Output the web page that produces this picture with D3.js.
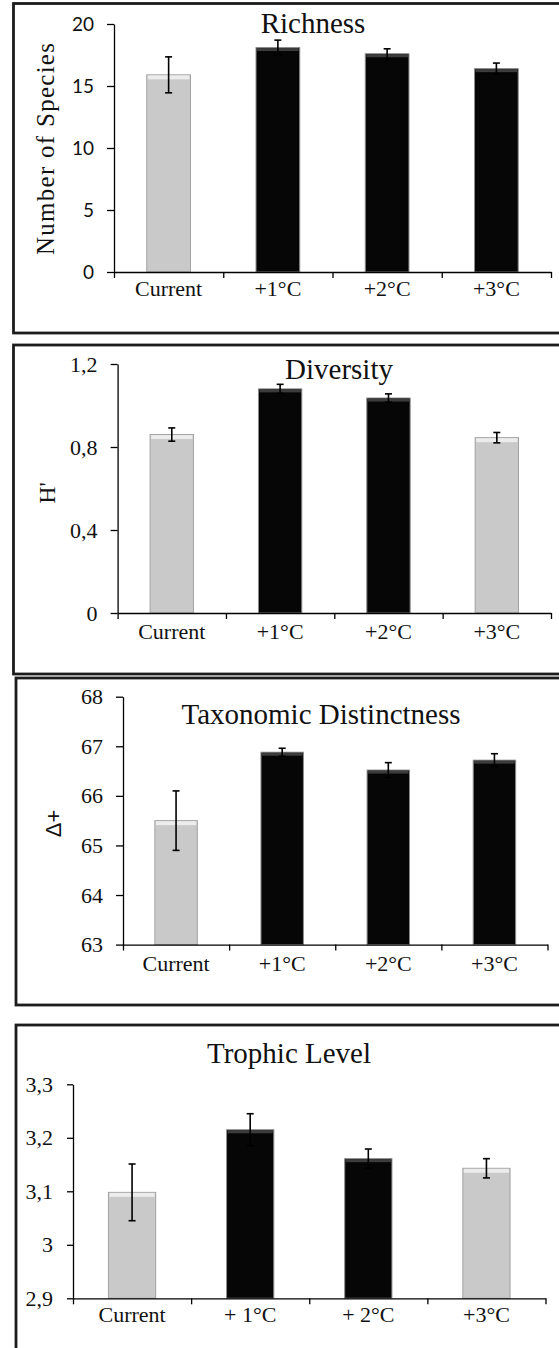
<!DOCTYPE html>
<html>
<head>
<meta charset="utf-8">
<script src="https://cdn.jsdelivr.net/npm/d3@7"></script>
<style>
  body { margin: 0; background: #fff; }
  svg { display: block; }
  .serif { font-family: "Liberation Serif", "Times New Roman", serif; }
</style>
</head>
<body>
<div id="chart"></div>
<script>
// data
var categories = ["Current", "+1°C", "+2°C", "+3°C"];
var categoriesTrophic = ["Current", "+ 1°C", "+ 2°C", "+3°C"];

var richnessMean = [15.9, 18.1, 17.6, 16.4];
var richnessErr = [1.45, 0.6, 0.4, 0.45];
var richnessTone = ["grey", "black", "black", "black"];
var richnessTicks = [0, 5, 10, 15, 20];

var diversityMean = [0.86, 1.08, 1.036, 0.845];
var diversityErr = [0.032, 0.022, 0.02, 0.025];
var diversityTone = ["grey", "black", "black", "grey"];
var diversityTicks = [0, 0.4, 0.8, 1.2];

var distinctMean = [65.5, 66.88, 66.52, 66.72];
var distinctErr = [0.6, 0.08, 0.15, 0.13];
var distinctTone = ["grey", "black", "black", "black"];
var distinctTicks = [63, 64, 65, 66, 67, 68];

var trophicMean = [3.098, 3.215, 3.161, 3.143];
var trophicErr = [0.053, 0.03, 0.018, 0.018];
var trophicTone = ["grey", "black", "black", "grey"];
var trophicTicks = [2.9, 3, 3.1, 3.2, 3.3];

var width = 559;
var height = 1348;
var serif = "Liberation Serif, Times New Roman, serif";

var comma = d3.formatLocale({decimal: ",", thousands: ".", grouping: [3], currency: ["", ""]}).format(".1~f");

var svg = d3.select("#chart").append("svg")
  .attr("width", width)
  .attr("height", height);

function setFont(sel, family, size) {
  sel.attr("font-family", family)
    .style("font-family", family)
    .style("font-size", size + "px");
}

function drawPanel(p) {
  var g = svg.append("g");

  // panel frame (runs off the right edge like the source)
  g.append("rect")
    .attr("x", p.box[0]).attr("y", p.box[1])
    .attr("width", p.box[2] - p.box[0]).attr("height", p.box[3] - p.box[1])
    .attr("fill", "none")
    .attr("stroke", "#1c1c1c")
    .attr("stroke-width", 2.8);

  var x = d3.scaleBand()
    .domain(p.cats)
    .range([p.x0, p.x1])
    .paddingInner(0.6)
    .paddingOuter(0.3);

  var xEdge = d3.scaleLinear().domain([0, p.cats.length]).range([p.x0, p.x1]);

  var y = d3.scaleLinear()
    .domain(p.domain)
    .range([p.yBot, p.yTop]);

  var rows = p.mean.map(function (m, i) {
    return {cat: p.cats[i], mean: m, err: p.err[i], tone: p.tone[i]};
  });

  var bar = g.selectAll(".bar")
    .data(rows)
    .enter().append("g")
    .attr("class", "bar");

  bar.append("rect")
    .attr("x", function (d) { return x(d.cat); })
    .attr("y", function (d) { return y(d.mean); })
    .attr("width", x.bandwidth())
    .attr("height", function (d) { return y(p.domain[0]) - y(d.mean); })
    .attr("fill", function (d) { return d.tone == "grey" ? "#c9c9c9" : "#060606"; })
    .attr("stroke", function (d) { return d.tone == "grey" ? "#a2a2a2" : "#8c8c8c"; })
    .attr("stroke-width", 1);

  // bevel-ish strip at the top of each bar
  bar.append("rect")
    .attr("x", function (d) { return x(d.cat) + 1; })
    .attr("y", function (d) { return y(d.mean) + 0.5; })
    .attr("width", x.bandwidth() - 2)
    .attr("height", function (d) { return d.tone == "grey" ? 4 : 3; })
    .attr("fill", function (d) { return d.tone == "grey" ? "#ececec" : "#3c3c3c"; });

  // error bars
  var cx = function (d) { return x(d.cat) + x.bandwidth() / 2; };
  bar.append("line")
    .attr("x1", cx).attr("x2", cx)
    .attr("y1", function (d) { return y(d.mean + d.err); })
    .attr("y2", function (d) { return y(d.mean - d.err); })
    .attr("stroke", "#000").attr("stroke-width", 1.6);
  [1, -1].forEach(function (s) {
    bar.append("line")
      .attr("x1", function (d) { return cx(d) - 3.5; })
      .attr("x2", function (d) { return cx(d) + 3.5; })
      .attr("y1", function (d) { return y(d.mean + s * d.err); })
      .attr("y2", function (d) { return y(d.mean + s * d.err); })
      .attr("stroke", "#000").attr("stroke-width", 1.6);
  });

  // y axis
  var yAxis = g.append("g")
    .attr("transform", "translate(" + p.x0 + ",0)")
    .call(d3.axisLeft(y).tickValues(p.ticks).tickFormat(comma)
      .tickSize(p.tickLen).tickSizeOuter(0).tickPadding(p.tickPad));
  yAxis.selectAll("path, line").attr("stroke", "#000").attr("stroke-width", 1.3);
  yAxis.attr("font-family", null);
  setFont(yAxis.selectAll("text").attr("fill", "#111"), p.tickFont, p.tickSize);

  // x axis: ticks between categories
  var xTicks = g.append("g")
    .attr("transform", "translate(0," + p.yBot + ")")
    .call(d3.axisBottom(xEdge).tickValues(d3.range(p.cats.length + 1))
      .tickFormat("").tickSize(6).tickSizeOuter(0));
  xTicks.selectAll("path, line").attr("stroke", "#000").attr("stroke-width", 1.3);

  var xLabels = g.append("g")
    .attr("transform", "translate(0," + p.labelY + ")")
    .call(d3.axisBottom(x).tickSize(0).tickPadding(0));
  xLabels.select(".domain").remove();
  xLabels.attr("font-family", null);
  setFont(xLabels.selectAll("text").attr("dy", 0).attr("fill", "#111"), serif, 22);

  // title
  setFont(g.append("text")
    .attr("x", p.titleX).attr("y", p.titleY)
    .attr("text-anchor", "middle")
    .attr("fill", "#111")
    .text(p.title), serif, 29);

  if (p.ylabel) {
    var yl = g.append("text")
      .attr("transform", "translate(" + p.ylabel.x + "," + p.ylabel.y + ") rotate(-90)")
      .attr("text-anchor", "middle")
      .attr("fill", "#111")
      .text(p.ylabel.text);
    setFont(yl, p.ylabel.font, p.ylabel.size);
    if (p.ylabel.len) yl.attr("textLength", p.ylabel.len).attr("lengthAdjust", "spacing");
  }
}

drawPanel({
  box: [13.5, 3.5, 600, 333],
  cats: categories, mean: richnessMean, err: richnessErr, tone: richnessTone,
  domain: [0, 20], ticks: richnessTicks,
  x0: 114, x1: 551, yTop: 24, yBot: 272,
  tickLen: 7, tickPad: 13, tickFont: "Lato, Open Sans, sans-serif", tickSize: 19,
  labelY: 312 - 16,
  title: "Richness", titleX: 313, titleY: 33,
  ylabel: {text: "Number of Species", x: 53.5, y: 149, font: serif, size: 25, len: 212}
});

drawPanel({
  box: [13.5, 345, 600, 674],
  cats: categories, mean: diversityMean, err: diversityErr, tone: diversityTone,
  domain: [0, 1.2], ticks: diversityTicks,
  x0: 117.6, x1: 551, yTop: 364, yBot: 613,
  tickLen: 7, tickPad: 13, tickFont: serif, tickSize: 22,
  labelY: 655 - 16,
  title: "Diversity", titleX: 339, titleY: 379,
  ylabel: {text: "H'", x: 55, y: 493, font: serif, size: 24}
});

drawPanel({
  box: [16, 678, 600, 1005],
  cats: categories, mean: distinctMean, err: distinctErr, tone: distinctTone,
  domain: [63, 68], ticks: distinctTicks,
  x0: 123, x1: 547.5, yTop: 696.7, yBot: 944.6,
  tickLen: 7, tickPad: 13, tickFont: serif, tickSize: 22,
  labelY: 987 - 16,
  title: "Taxonomic Distinctness", titleX: 321, titleY: 724,
  ylabel: {text: "Δ+", x: 60.5, y: 823.5, font: "Liberation Sans, Arial, sans-serif", size: 22}
});

drawPanel({
  box: [16, 1025, 600, 1400],
  cats: categoriesTrophic, mean: trophicMean, err: trophicErr, tone: trophicTone,
  domain: [2.9, 3.3], ticks: trophicTicks,
  x0: 73, x1: 545.5, yTop: 1084.3, yBot: 1298.3,
  tickLen: 6, tickPad: 14, tickFont: serif, tickSize: 22,
  labelY: 1338 - 16,
  title: "Trophic Level", titleX: 289, titleY: 1063
});
</script>
</body>
</html>
